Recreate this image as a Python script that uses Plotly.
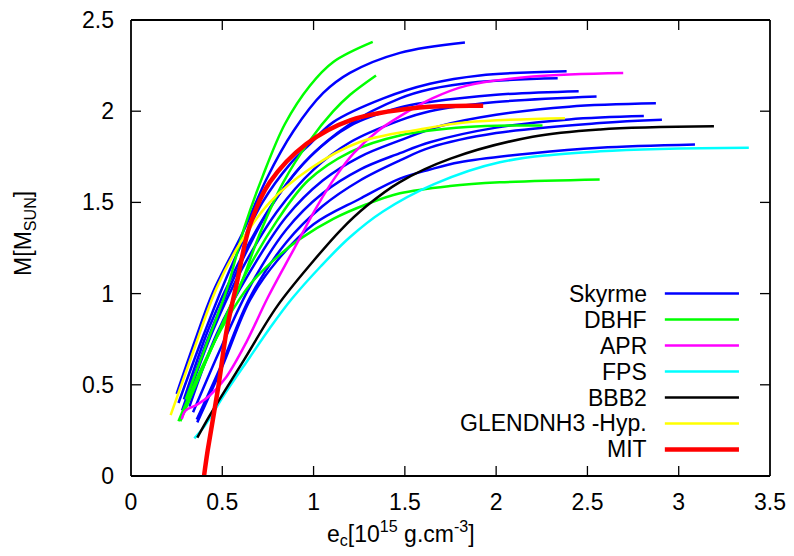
import plotly.graph_objects as go

# mass vs central energy density curves
# each entry is (e_c values, M values)

skyrme = [
    ([0.25, 0.35, 0.45, 0.615, 0.743, 0.889, 1.053, 1.199, 1.473, 1.829],
     [0.45, 0.74, 1.01, 1.34, 1.63, 1.89, 2.10, 2.21, 2.32, 2.377]),
    ([0.26, 0.40, 0.55, 0.72, 0.871, 0.98, 1.108, 1.382, 1.637, 1.911, 2.386],
     [0.40, 0.78, 1.15, 1.50, 1.71, 1.82, 1.94, 2.07, 2.15, 2.196, 2.219]),
    ([0.28, 0.42, 0.57, 0.75, 0.95, 1.2, 1.473, 1.637, 1.9, 2.337],
     [0.36, 0.75, 1.10, 1.45, 1.72, 1.93, 2.07, 2.12, 2.16, 2.18]),
    ([0.29, 0.43, 0.58, 0.78, 0.98, 1.2, 1.473, 1.637, 2.0, 2.452],
     [0.42, 0.82, 1.15, 1.50, 1.75, 1.92, 2.02, 2.05, 2.09, 2.11]),
    ([0.30, 0.45, 0.60, 0.80, 1.0, 1.2, 1.473, 1.637, 2.0, 2.55],
     [0.40, 0.80, 1.12, 1.45, 1.68, 1.83, 1.95, 2.00, 2.05, 2.081]),
    ([0.32, 0.47, 0.652, 0.85, 1.05, 1.254, 1.473, 1.7, 2.0, 2.4, 2.875],
     [0.38, 0.78, 1.12, 1.42, 1.62, 1.75, 1.84, 1.92, 1.98, 2.025, 2.043]),
    ([0.34, 0.50, 0.652, 0.85, 1.05, 1.254, 1.473, 1.637, 2.0, 2.4, 2.809],
     [0.35, 0.72, 1.04, 1.35, 1.55, 1.68, 1.77, 1.83, 1.91, 1.955, 1.973]),
    ([0.36, 0.50, 0.652, 0.85, 1.05, 1.254, 1.473, 1.637, 2.0, 2.568, 2.908],
     [0.31, 0.62, 0.98, 1.28, 1.48, 1.62, 1.73, 1.80, 1.88, 1.935, 1.953]),
    ([0.363, 0.50, 0.652, 0.80, 1.0, 1.254, 1.473, 1.637, 1.8, 2.2, 2.568, 3.089],
     [0.294, 0.60, 0.965, 1.18, 1.38, 1.52, 1.63, 1.68, 1.72, 1.77, 1.80, 1.818]),
]

dbhf = [
    ([0.30, 0.42, 0.524, 0.62, 0.72, 0.843, 0.98, 1.108, 1.324],
     [0.42, 0.74, 1.02, 1.36, 1.64, 1.93, 2.14, 2.27, 2.38]),
    ([0.28, 0.45, 0.597, 0.706, 0.834, 0.98, 1.108, 1.2, 1.342],
     [0.33, 0.72, 1.04, 1.33, 1.61, 1.84, 2.0, 2.09, 2.196]),
    ([0.27, 0.45, 0.634, 0.80, 0.97, 1.2, 1.473, 1.84, 2.254],
     [0.30, 0.72, 1.12, 1.40, 1.62, 1.776, 1.867, 1.913, 1.922]),
    ([0.26, 0.40, 0.52, 0.652, 0.80, 0.926, 1.108, 1.291, 1.473, 1.747, 2.02, 2.567],
     [0.30, 0.62, 0.85, 1.05, 1.20, 1.30, 1.41, 1.49, 1.55, 1.59, 1.61, 1.626]),
]

apr_x = [0.278, 0.30, 0.36, 0.43, 0.52, 0.63, 0.75, 0.89, 1.02, 1.12, 1.22, 1.35, 1.47, 1.65, 1.84, 2.2, 2.696]
apr_y = [0.312, 0.36, 0.39, 0.44, 0.54, 0.73, 0.98, 1.24, 1.48, 1.64, 1.77, 1.89, 1.97, 2.07, 2.14, 2.19, 2.21]

fps_x = [0.347, 0.40, 0.52, 0.65, 0.76, 0.88, 1.04, 1.2, 1.38, 1.66, 2.02, 2.57, 3.384]
fps_y = [0.206, 0.27, 0.46, 0.65, 0.81, 0.97, 1.15, 1.31, 1.45, 1.60, 1.72, 1.78, 1.80]

bbb2_x = [0.363, 0.43, 0.615, 0.80, 1.0, 1.15, 1.29, 1.47, 1.75, 2.2, 2.57, 3.193]
bbb2_y = [0.21, 0.33, 0.63, 0.93, 1.18, 1.35, 1.48, 1.61, 1.74, 1.86, 1.90, 1.917]

glend_x = [0.217, 0.34, 0.469, 0.6, 0.76, 0.98, 1.25, 1.58, 1.84, 2.377]
glend_y = [0.334, 0.68, 1.03, 1.28, 1.50, 1.685, 1.83, 1.90, 1.94, 1.962]

mit_x = [0.40, 0.42, 0.48, 0.524, 0.58, 0.65, 0.76, 0.96, 1.2, 1.58, 1.929]
mit_y = [0.0, 0.14, 0.50, 0.80, 1.06, 1.37, 1.61, 1.82, 1.95, 2.02, 2.03]

legend_names = ["Skyrme", "DBHF", "APR", "FPS", "BBB2", "GLENDNH3 -Hyp.", "MIT"]
legend_colors = ["#0000ff", "#00ff00", "#ff00ff", "#00ffff", "#000000", "#ffff00", "#ff0000"]
legend_widths = [2.5, 2.5, 2.5, 2.5, 2.5, 2.5, 4.5]

x_ticks = [0.5, 1.0, 1.5, 2.0, 2.5, 3.0]
y_ticks = [0.5, 1.0, 1.5, 2.0]

groups = [
    skyrme,
    dbhf,
    [(apr_x, apr_y)],
    [(fps_x, fps_y)],
    [(bbb2_x, bbb2_y)],
    [(glend_x, glend_y)],
    [(mit_x, mit_y)],
]

W, H = 778, 540
mg = dict(l=123, r=16, t=12, b=72)
plot_w = W - mg["l"] - mg["r"]
plot_h = H - mg["t"] - mg["b"]
tick_px = 10

fig = go.Figure()

for curves, name, col, w in zip(groups, legend_names, legend_colors, legend_widths):
    for xs, ys in curves:
        fig.add_trace(go.Scatter(x=xs, y=ys, mode="lines", name=name,
                                 line=dict(color=col, width=w, shape="spline", smoothing=1.0),
                                 showlegend=False, hoverinfo="skip"))

# hand-made legend (text right aligned, sample line to the right, gnuplot style)
fnt = dict(family="Liberation Sans, Arial, sans-serif", size=23, color="black")
y0 = 1.0
step = 0.1424
for i, (name, col, w) in enumerate(zip(legend_names, legend_colors, legend_widths)):
    yy = y0 - i * step
    fig.add_annotation(x=2.835, y=yy, xref="x", yref="y", text=name, showarrow=False,
                       xanchor="right", yanchor="middle", font=fnt)
    fig.add_shape(type="line", xref="x", yref="y", x0=2.924, x1=3.33, y0=yy, y1=yy,
                  line=dict(color=col, width=w))

# frame around the plot
for ex0, ex1, ey0, ey1 in [(0, 1, 0, 0), (0, 1, 1, 1), (0, 0, 0, 1), (1, 1, 0, 1)]:
    fig.add_shape(type="line", xref="paper", yref="paper", x0=ex0, x1=ex1, y0=ey0, y1=ey1,
                  line=dict(color="black", width=1.8), layer="above")

# inward ticks on all four sides (gnuplot mirrors them)
th = tick_px / plot_h
tw = tick_px / plot_w
for xt in x_ticks:
    for a, b in [(0, th), (1, 1 - th)]:
        fig.add_shape(type="line", xref="x", yref="paper", x0=xt, x1=xt, y0=a, y1=b,
                      line=dict(color="black", width=1.3), layer="above")
for yt in y_ticks:
    for a, b in [(0, tw), (1, 1 - tw)]:
        fig.add_shape(type="line", xref="paper", yref="y", x0=a, x1=b, y0=yt, y1=yt,
                      line=dict(color="black", width=1.3), layer="above")

# axis titles (paper coords are relative to the plot area)
fig.add_annotation(x=-0.166, y=0.533, xref="paper", yref="paper", text="M[M<sub>SUN</sub>]",
                   showarrow=False, textangle=-90, font=fnt, xanchor="center", yanchor="middle")
fig.add_annotation(x=0.4225, y=-0.125, xref="paper", yref="paper",
                   text="e<sub>c</sub>[10<sup>15</sup> g.cm<sup>-3</sup>]",
                   showarrow=False, font=fnt, xanchor="center", yanchor="middle")

fig.update_xaxes(range=[0, 3.5], dtick=0.5, ticks="", showline=False, showgrid=False,
                 zeroline=False, tickfont=fnt, ticklabelstandoff=10,
                 ticklabeloverflow="allow", automargin=False)
fig.update_yaxes(range=[0, 2.5], dtick=0.5, ticks="", showline=False, showgrid=False,
                 zeroline=False, tickfont=fnt, ticklabelstandoff=16,
                 ticklabeloverflow="allow", automargin=False)

# the page body adds an 8px margin, so the figure is a little smaller than the window
fig.update_layout(width=W, height=H, plot_bgcolor="white", paper_bgcolor="white",
                  margin=mg, font=fnt, showlegend=False)

fig.write_html("out.html")
